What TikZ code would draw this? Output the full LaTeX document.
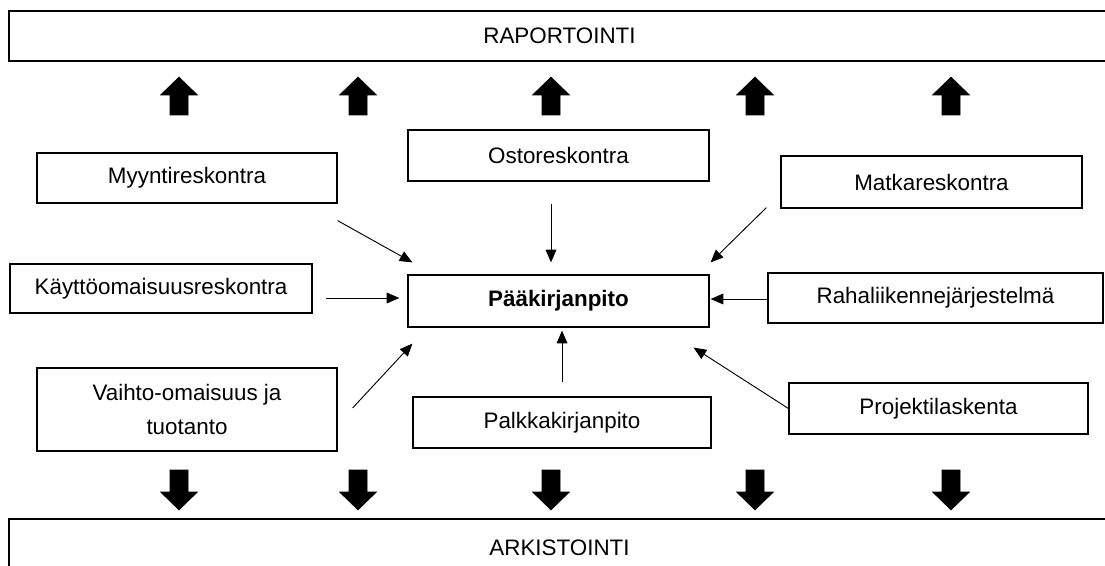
\documentclass[tikz,border=0pt]{standalone}
\usepackage{fontspec}
\setmainfont{Liberation Sans}
\usetikzlibrary{arrows.meta}

\begin{document}
\begin{tikzpicture}[x=0.75pt, y=-0.75pt,
    box/.style 2 args={draw, line width=0.9pt, inner sep=0pt, align=center,
        minimum width=#1*0.75pt, minimum height=#2*0.75pt},
    conn/.style={line width=0.7pt, -{Triangle[length=9.5pt,width=8pt]}},
    block/.style={fill=black, draw=black, line width=0.4pt},
    font=\fontsize{16.8}{26}\selectfont]
    \clip (0,0) rectangle (1105,566);
    % top and bottom bars
    \node[box={1101}{50}] (rap) at (559.5,36) {RAPORTOINTI};
    \node[box={1101}{58}] (ark) at (559.5,548) {ARKISTOINTI};
    % ledgers
    \node[box={300}{50}] (myynti) at (187,178) {Myyntireskontra};
    \node[box={302}{49}] (kaytto) at (161,288.5) {Käyttöomaisuusreskontra};
    \node[box={300}{83}] (vaihto) at (187,409.5) {Vaihto-omaisuus ja\\tuotanto};
    \node[box={301}{51}] (osto) at (558.5,155.5) {Ostoreskontra};
    \node[box={301}{52}, font=\fontsize{16.8}{26}\selectfont\bfseries] (paa) at (558.5,301) {Pääkirjanpito};
    \node[box={298}{51}] (palkka) at (562,422.5) {Palkkakirjanpito};
    \node[box={301}{52}] (matka) at (931.5,182) {Matkareskontra};
    \node[box={335}{50}] (raha) at (935.5,298) {Rahaliikennejärjestelmä};
    \node[box={299}{51}] (projekti) at (938.5,408.5) {Projektilaskenta};
    % connectors into the general ledger
    \draw[conn] ([shift={(0,17)}]myynti.south east) -- ([shift={(5,-12)}]paa.north west);
    \draw[conn] ([shift={(13,9.5)}]kaytto.east) -- ([shift={(-8,-3)}]paa.west);
    \draw[conn] ([shift={(15,-1.5)}]vaihto.east) -- ([shift={(5,16)}]paa.south west);
    \draw[conn] ([shift={(-7.5,22)}]osto.south) -- ([shift={(-7.5,-12)}]paa.north);
    \draw[conn] ([shift={(0,-14)}]palkka.north) -- ([shift={(3.5,3)}]paa.south);
    \draw[conn] ([shift={(-14,-1)}]matka.south west) -- ([shift={(1,-12)}]paa.north east);
    \draw[conn] ([shift={(0,1)}]raha.west) -- ([shift={(1,-2)}]paa.east);
    \draw[conn] (projekti.west) -- ([shift={(-16,20)}]paa.south east);
    % block arrows
    \foreach \x in {179,358,551,755,951} {
        \draw[block] (\x-9,115) -- (\x-9,95) -- (\x-18.5,95) -- (\x,77)
            -- (\x+18.5,95) -- (\x+9,95) -- (\x+9,115) -- cycle;
        \draw[block] (\x-9,470) -- (\x-9,492) -- (\x-18.5,492) -- (\x,510)
            -- (\x+18.5,492) -- (\x+9,492) -- (\x+9,470) -- cycle;
    }
\end{tikzpicture}
\end{document}
